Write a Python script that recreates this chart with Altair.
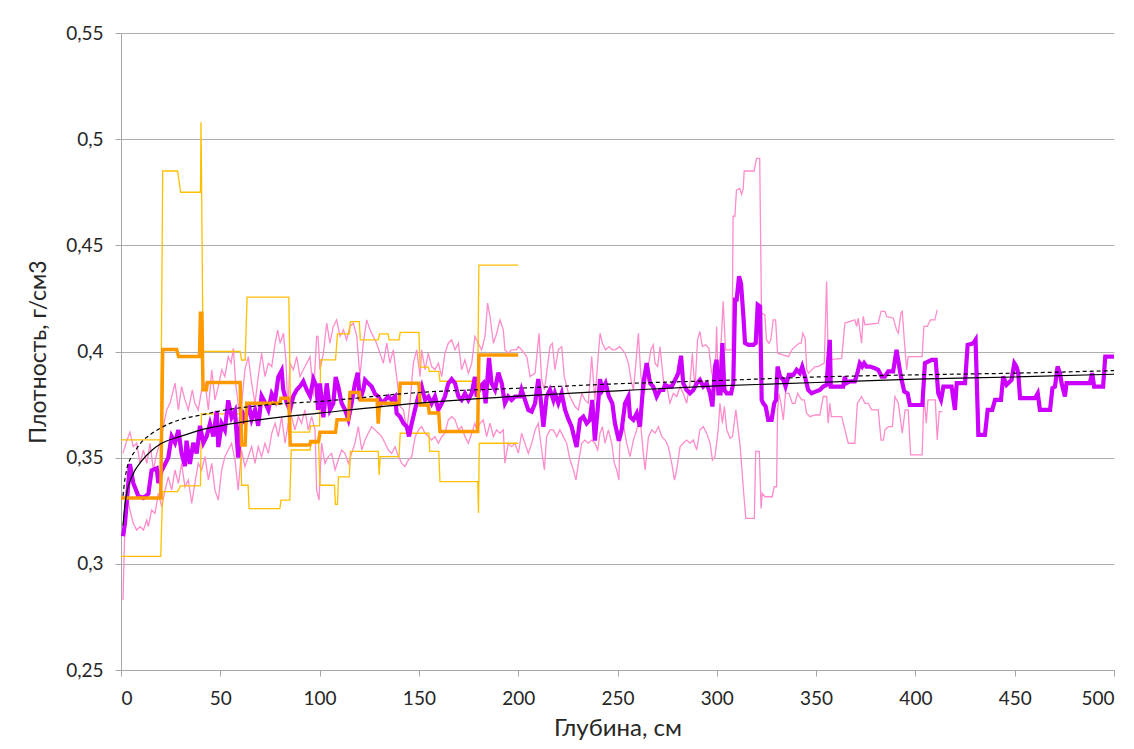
import altair as alt
import pandas as pd

# ---------------- data (depth cm, density g/cm3) ----------------
purple_mean = [
    (1, 0.313), (2, 0.319), (4.5, 0.347), (6.2, 0.338), (8.7, 0.332), (11.3, 0.331), (13.8, 0.333),
    (15.4, 0.344), (18, 0.345), (18.8, 0.338), (20.5, 0.344), (22.2, 0.347), (23.8, 0.350),
    (25.5, 0.360), (27.2, 0.357), (28.9, 0.363), (30.5, 0.352), (32.2, 0.346), (33, 0.358),
    (34.7, 0.347), (36.4, 0.357), (38.1, 0.352), (39.8, 0.365), (41.5, 0.357), (43.1, 0.360),
    (44.8, 0.366), (46.5, 0.360), (48.2, 0.372), (49, 0.355), (50.7, 0.366), (52.3, 0.363),
    (54, 0.377), (55.7, 0.369), (57.4, 0.372), (59, 0.350), (60.7, 0.3725), (62.4, 0.366),
    (64.1, 0.376), (65.8, 0.368), (67.5, 0.3725), (69.1, 0.365), (70.8, 0.379), (72.5, 0.376),
    (74.2, 0.3725), (75.9, 0.380), (77.6, 0.377), (79.2, 0.388), (80.9, 0.391), (81.7, 0.382),
    (83.4, 0.376), (85.1, 0.3725), (86.8, 0.379), (88.5, 0.382), (90.1, 0.3835), (91.8, 0.386),
    (93.5, 0.382), (95.2, 0.379), (96.9, 0.387), (98.5, 0.3835), (99.2, 0.3725), (100.2, 0.385),
    (101.9, 0.369), (103.6, 0.385), (105.2, 0.3725), (106.9, 0.3756), (108.1, 0.388),
    (109.4, 0.3835), (111.1, 0.3756), (112.8, 0.3725), (114.5, 0.368), (116.1, 0.3756),
    (117.8, 0.385), (119.2, 0.390), (120.3, 0.377), (122, 0.382), (122.9, 0.3866), (124.5, 0.385),
    (126.2, 0.3835), (127.9, 0.380), (129.6, 0.3788), (131.3, 0.3756), (133, 0.3772),
    (134.6, 0.3788), (136.3, 0.3772), (138, 0.3788), (138.8, 0.3709), (140.5, 0.3693),
    (142.2, 0.3662), (143.9, 0.3646), (145, 0.360), (146.4, 0.3662), (148, 0.3725),
    (149.7, 0.3788), (151.4, 0.3835), (153.1, 0.3772), (154.8, 0.3788), (156.4, 0.3756),
    (158.1, 0.3788), (159.8, 0.3725), (161.5, 0.3756), (163.1, 0.3788), (164.8, 0.385),
    (166.5, 0.387), (168.2, 0.385), (169.9, 0.3788), (171.5, 0.3772), (173.2, 0.3803),
    (174.9, 0.3772), (176.6, 0.3803), (178.2, 0.388), (179.1, 0.3788), (180.8, 0.3835),
    (182.4, 0.385), (183.6, 0.3756), (185.3, 0.397), (186.6, 0.385), (188.3, 0.382), (190, 0.390),
    (191.7, 0.385), (193.3, 0.3756), (195, 0.3788), (196.7, 0.3772), (198.4, 0.3788),
    (200.9, 0.3788), (201.7, 0.382), (203.4, 0.3772), (205.1, 0.3725), (206.8, 0.3717),
    (208.5, 0.3756), (210.1, 0.387), (211, 0.3803), (212.7, 0.3646), (214.3, 0.3788), (216, 0.382),
    (217.7, 0.3772), (218.5, 0.3803), (220.2, 0.3756), (221.9, 0.3803), (223.6, 0.3725),
    (225.3, 0.368), (226.9, 0.3646), (228.6, 0.358), (229.4, 0.355), (231.1, 0.3678),
    (232.8, 0.3693), (234.5, 0.3662), (236.1, 0.3678), (237.3, 0.3772), (238.6, 0.358),
    (240, 0.3725), (241.2, 0.387), (242.4, 0.382), (244, 0.385), (245.7, 0.3788), (247.4, 0.3756),
    (248.7, 0.3662), (250.7, 0.358), (252.1, 0.3631), (253.8, 0.3756), (255.5, 0.3788),
    (256.3, 0.3693), (258, 0.3678), (259.7, 0.3709), (261.3, 0.3646), (263, 0.385),
    (264.7, 0.3945), (266.4, 0.385), (268, 0.3835), (269.7, 0.3788), (271.4, 0.3819),
    (273.1, 0.3819), (273.9, 0.3843), (275.6, 0.3835), (277.3, 0.3835), (279, 0.3866),
    (280.6, 0.3898), (282, 0.398), (283.1, 0.385), (284.8, 0.3819), (286.5, 0.3803),
    (288.2, 0.3819), (289.9, 0.385), (291.5, 0.3866), (293.2, 0.3835), (294.9, 0.385),
    (296.6, 0.3803), (297.8, 0.3741), (299.1, 0.3929), (299.9, 0.3961), (300.8, 0.3803),
    (301.9, 0.3803), (302.8, 0.404), (303.8, 0.3819), (305, 0.3803), (307.2, 0.3803),
    (308.3, 0.385), (309.2, 0.4244), (310, 0.4244), (311.2, 0.4354), (312.2, 0.432),
    (313.4, 0.4165), (314.2, 0.404), (315.9, 0.4031), (318.4, 0.4031), (319.6, 0.404),
    (320.6, 0.422), (321.8, 0.4212), (322.6, 0.3772), (323.4, 0.3756), (324.6, 0.3741),
    (325.9, 0.3678), (327.6, 0.3678), (328.9, 0.3756), (329.8, 0.3772), (330.6, 0.3929),
    (331.8, 0.3882), (333.5, 0.3866), (334.6, 0.3835), (336.3, 0.389), (338.5, 0.389),
    (340.2, 0.3914), (341.8, 0.3898), (343, 0.3929), (344.4, 0.3882), (346, 0.3819),
    (347.7, 0.3803), (349.4, 0.381), (351.9, 0.3819), (353.6, 0.3835), (355.3, 0.3843),
    (356.1, 0.3961), (356.9, 0.4055), (357.4, 0.3835), (361.2, 0.3835), (363.6, 0.3835),
    (364.5, 0.3882), (365.3, 0.3851), (367, 0.3859), (369.5, 0.3859), (370.8, 0.3898),
    (372, 0.3945), (373.2, 0.3929), (374.2, 0.3945), (375.4, 0.3929), (377.1, 0.3929),
    (379.6, 0.3921), (381.3, 0.3914), (383, 0.3882), (384.6, 0.3882), (386.3, 0.3906),
    (388.8, 0.3906), (390.5, 0.4008), (391.3, 0.3961), (392.7, 0.3882), (394.4, 0.3811),
    (396.1, 0.3803), (397.2, 0.3748), (399.8, 0.3748), (403.5, 0.3748), (404.8, 0.3945),
    (408.2, 0.3961), (410.2, 0.3961), (411.5, 0.3803), (412.9, 0.3772), (414.1, 0.3835),
    (418.2, 0.3835), (419.9, 0.3725), (420.8, 0.3851), (425, 0.3851), (426.3, 0.4031),
    (429.2, 0.4039), (430.3, 0.4055), (431.7, 0.3607), (435, 0.3607), (436.4, 0.3725),
    (438.7, 0.3725), (440.1, 0.3772), (443.1, 0.3772), (444.2, 0.3882), (445.9, 0.3843),
    (448.4, 0.3866), (449.8, 0.3945), (450.9, 0.3929), (451.8, 0.3898), (452.7, 0.378),
    (460.2, 0.378), (461.6, 0.3803), (462.7, 0.3725), (467.8, 0.3725), (469, 0.3827),
    (470.3, 0.3835), (471.6, 0.3929), (472.8, 0.3898), (473.6, 0.3851), (475.3, 0.3788),
    (476.1, 0.3851), (480.3, 0.3851), (487.8, 0.3851), (489, 0.3898), (490, 0.3835),
    (494.5, 0.3835), (495.6, 0.3976), (500, 0.3976),
]

pink_upper = [
    (1, 0.352), (2.9, 0.358), (4.5, 0.362), (6.2, 0.3552), (7.9, 0.3568), (9.6, 0.3473),
    (11.3, 0.3536), (13, 0.3473), (14.6, 0.3568), (16.3, 0.3442), (18, 0.352), (19.6, 0.3568),
    (21.3, 0.3646), (23, 0.3725), (24.7, 0.3756), (27.2, 0.3851), (28.9, 0.3725), (30.5, 0.3835),
    (32.2, 0.3772), (33.9, 0.3725), (35.9, 0.3819), (37.2, 0.3756), (38.9, 0.3725), (40.6, 0.3819),
    (42.3, 0.3851), (44, 0.3725), (45.7, 0.3914), (47.3, 0.3772), (49, 0.3835), (50.7, 0.3914),
    (52.3, 0.3882), (54, 0.3976), (55.4, 0.3945), (56.6, 0.4015), (57.7, 0.3851), (59.4, 0.3725),
    (60.8, 0.3756), (62.4, 0.3914), (64.1, 0.3976), (65.8, 0.3851), (67.5, 0.3756), (69.1, 0.3882),
    (70.8, 0.3992), (72.5, 0.3882), (74.2, 0.3945), (75.9, 0.3929), (77.6, 0.4039), (78.9, 0.4102),
    (80.1, 0.4039), (81.8, 0.4086), (83, 0.3961), (84, 0.3725), (85.1, 0.3945), (86.8, 0.3914),
    (88.5, 0.3976), (90.1, 0.3882), (91.8, 0.3914), (93.5, 0.3945), (95.2, 0.3976), (96.9, 0.3788),
    (98.5, 0.4071), (99.2, 0.4071), (100.2, 0.3914), (101.9, 0.3992), (103.6, 0.4134),
    (105.2, 0.4039), (106.9, 0.4118), (108.6, 0.4149), (110.3, 0.4071), (112, 0.4102),
    (113.6, 0.4055), (115.3, 0.4118), (117, 0.4134), (118.7, 0.4071), (120.3, 0.3882),
    (122, 0.4039), (123.7, 0.4149), (125.4, 0.4102), (127, 0.4071), (128.7, 0.4039),
    (130.4, 0.3992), (132.1, 0.3945), (133.8, 0.4039), (135.4, 0.3945), (137.1, 0.4008),
    (138.8, 0.3882), (140.5, 0.3741), (142.2, 0.3725), (143.9, 0.3631), (145.5, 0.3756),
    (147.2, 0.3945), (148.9, 0.4008), (150.6, 0.3882), (151.4, 0.4008), (153.1, 0.3914),
    (154.7, 0.3992), (156.4, 0.3929), (158.1, 0.3914), (159.8, 0.3945), (161.5, 0.3882),
    (163.1, 0.3992), (164.8, 0.4039), (166.5, 0.4055), (168.2, 0.4008), (169.9, 0.4039),
    (171.5, 0.3914), (173.2, 0.3961), (174.9, 0.3898), (176.6, 0.3945), (178.2, 0.4071),
    (179.9, 0.4039), (181.6, 0.4008), (183.3, 0.4071), (184.6, 0.4228), (185.8, 0.4165),
    (187.5, 0.4039), (189.2, 0.4086), (190.8, 0.4149), (192.5, 0.4102), (193.3, 0.4008),
    (195, 0.3992), (196.7, 0.4008), (199.2, 0.4008), (200.1, 0.4023), (201.7, 0.4008),
    (204.3, 0.3976), (206, 0.3882), (208.5, 0.3898), (210.5, 0.4086), (211.8, 0.3866),
    (213.2, 0.3819), (214.3, 0.3898), (216, 0.4023), (217.2, 0.4039), (218.5, 0.3914),
    (220.2, 0.4008), (221.9, 0.4023), (223.2, 0.3882), (225.3, 0.3803), (226.9, 0.3772),
    (228.6, 0.3741), (230.3, 0.3725), (232, 0.3803), (233.6, 0.3772), (235.3, 0.3756),
    (237, 0.3976), (238.6, 0.3772), (240, 0.3945), (241.2, 0.4086), (242.4, 0.4039),
    (244, 0.4008), (245.7, 0.4023), (247.4, 0.4008), (248.7, 0.4008), (251.2, 0.4023),
    (253.8, 0.3992), (255.5, 0.3945), (256.8, 0.3866), (258, 0.3819), (259.1, 0.3929),
    (260.5, 0.4086), (261.8, 0.3882), (263.5, 0.3803), (265.2, 0.3914), (266.8, 0.4008),
    (268, 0.4031), (268.9, 0.3945), (270.2, 0.3929), (271.4, 0.4023), (273.1, 0.3866),
    (274.8, 0.3835), (276.4, 0.3756), (278.1, 0.3803), (279.8, 0.3788), (281.5, 0.3835),
    (283.1, 0.3803), (284.8, 0.3756), (286.5, 0.3851), (287.7, 0.3992), (289, 0.3819),
    (290.3, 0.4055), (291.5, 0.4094), (292.7, 0.4023), (294.4, 0.4031), (296, 0.4015),
    (297.4, 0.3898), (299.1, 0.3851), (299.9, 0.4118), (300.7, 0.3851), (302, 0.4008),
    (303.2, 0.4236), (304.4, 0.4008), (307.7, 0.4008), (308.2, 0.4637), (309.1, 0.4637),
    (309.9, 0.476), (311.6, 0.4768), (312.5, 0.474), (313.3, 0.4768), (313.8, 0.485),
    (318.8, 0.485), (320, 0.491), (321.6, 0.491), (322.5, 0.418), (324.2, 0.4173),
    (325, 0.4055), (326.2, 0.4039), (327.2, 0.4055), (328.4, 0.4149), (329.6, 0.4149),
    (330.6, 0.3992), (336.1, 0.3976), (337.8, 0.4008), (339.4, 0.4023), (341.5, 0.4039),
    (342.5, 0.4039), (343.3, 0.4086), (344.5, 0.4063), (345.3, 0.3914), (346.2, 0.3898),
    (349.5, 0.3929), (351.1, 0.3929), (354.1, 0.3945), (355.3, 0.433), (356.1, 0.3961),
    (362.9, 0.3968), (364.5, 0.4134), (369.5, 0.4149), (370.4, 0.4118), (371.2, 0.4157),
    (372.9, 0.4039), (373.7, 0.4165), (374.6, 0.4126), (381.3, 0.4134), (382.7, 0.4189),
    (384.7, 0.4189), (385.5, 0.4165), (388.9, 0.4157), (390.5, 0.4102), (391.4, 0.4086),
    (392.7, 0.4181), (393.4, 0.4189), (394.4, 0.4055), (395.6, 0.3914), (396.4, 0.3976),
    (403.4, 0.3976), (404.3, 0.4118), (406, 0.4118), (407.6, 0.4149), (409.8, 0.4149),
    (411, 0.4197),
]

pink_lower = [
    (1, 0.2829), (1.7, 0.3096), (2.9, 0.3332), (4.5, 0.3253), (6.2, 0.319), (7.9, 0.3159),
    (9.6, 0.3175), (11.3, 0.3159), (13, 0.3206), (13.8, 0.3175), (15.4, 0.3253), (17.1, 0.3237),
    (18.8, 0.3332), (20.5, 0.3269), (22.2, 0.3347), (23.8, 0.341), (25.5, 0.3347), (27.2, 0.3442),
    (28.9, 0.3379), (30.5, 0.3473), (32.2, 0.3363), (33.9, 0.3395), (35.6, 0.3285), (37.2, 0.3379),
    (38.9, 0.3473), (40.6, 0.3442), (42.3, 0.3505), (44, 0.3395), (45.7, 0.3473), (47.3, 0.3347),
    (49, 0.33), (50.7, 0.3442), (52.3, 0.3505), (54, 0.3536), (55.7, 0.3568), (57.4, 0.3489),
    (59, 0.3347), (60.7, 0.3536), (62.4, 0.3458), (64.1, 0.3505), (65.8, 0.3552), (67.5, 0.3473),
    (69.1, 0.3552), (70.8, 0.3505), (72.5, 0.3568), (74.2, 0.352), (75.9, 0.3615), (77.6, 0.3662),
    (79.2, 0.3599), (80.9, 0.3693), (82.6, 0.3568), (84.2, 0.3662), (85.9, 0.3693), (87.6, 0.3631),
    (89.3, 0.3693), (90.9, 0.3662), (92.6, 0.3725), (94.3, 0.3631), (96, 0.3693), (97.7, 0.3631),
    (98.5, 0.3347), (99.7, 0.33), (101, 0.3568), (102.7, 0.3473), (104.4, 0.3505), (106.1, 0.352),
    (107.8, 0.3442), (109.4, 0.3489), (111.1, 0.3536), (112.8, 0.352), (114.5, 0.3473),
    (116.1, 0.352), (117.8, 0.3568), (119.5, 0.3646), (121.2, 0.3536), (122.9, 0.3583),
    (124.5, 0.3615), (126.2, 0.3646), (127.9, 0.3631), (129.6, 0.3615), (131.3, 0.3599),
    (133, 0.3568), (134.6, 0.3536), (136.3, 0.352), (138, 0.3552), (139.7, 0.3505),
    (141.4, 0.3473), (143, 0.3458), (144.7, 0.3489), (146.4, 0.3505), (148.1, 0.3599),
    (149.8, 0.3631), (151.4, 0.3646), (153.1, 0.3615), (154.7, 0.3599), (156.4, 0.3583),
    (158.1, 0.3599), (159.8, 0.3568), (161.5, 0.3599), (163.1, 0.3615), (164.8, 0.3678),
    (166.5, 0.3693), (168.2, 0.3678), (169.9, 0.3631), (171.5, 0.3646), (173.2, 0.3599),
    (174.9, 0.3568), (176.6, 0.3615), (178.2, 0.3662), (179.1, 0.3631), (180.8, 0.3662),
    (182.4, 0.3678), (184.1, 0.3599), (185.8, 0.3662), (187.5, 0.3599), (189.2, 0.3631),
    (190.8, 0.3615), (192.5, 0.3631), (193.3, 0.3474), (195, 0.3568), (196.7, 0.3552),
    (198.4, 0.3568), (200.1, 0.352), (201.7, 0.3615), (203.4, 0.3568), (205.1, 0.352),
    (206.8, 0.3568), (208.5, 0.3631), (210.1, 0.3662), (211.8, 0.3536), (213.2, 0.3442),
    (214.3, 0.3599), (216, 0.3631), (217.7, 0.3631), (219.4, 0.3599), (221, 0.3631),
    (222.7, 0.3599), (224.4, 0.3568), (226.1, 0.3489), (227.8, 0.3442), (229.1, 0.3394),
    (230.3, 0.3473), (232, 0.3568), (233.6, 0.3583), (235.3, 0.3568), (237, 0.3583),
    (238.6, 0.3568), (240, 0.3536), (241.2, 0.3615), (242.4, 0.3646), (243.7, 0.3568),
    (245.4, 0.3631), (247.1, 0.3568), (248.4, 0.3473), (249.6, 0.3442), (250.7, 0.3394),
    (251.2, 0.3583), (252.9, 0.3662), (254.6, 0.3568), (256.3, 0.3505), (258, 0.3583),
    (259.7, 0.3631), (261.3, 0.3693), (263, 0.352), (263.9, 0.3442), (265.6, 0.3599),
    (267.3, 0.3631), (268.9, 0.3615), (270.6, 0.3646), (272.3, 0.3599), (274, 0.3583),
    (275.6, 0.3552), (277.3, 0.3473), (278.7, 0.3394), (279.8, 0.3442), (281.5, 0.3552),
    (283.1, 0.3568), (284.8, 0.3583), (286.5, 0.3568), (288.2, 0.3583), (289.9, 0.3536),
    (291.5, 0.3631), (293.2, 0.3646), (294.9, 0.3615), (296.6, 0.3568), (297.8, 0.3489),
    (299.1, 0.3505), (300.7, 0.3631), (301.6, 0.3756), (302.8, 0.3662), (303.8, 0.3741),
    (305, 0.3631), (306.7, 0.3591), (307.9, 0.3599), (309.6, 0.3725), (311.8, 0.355),
    (313.4, 0.335), (314.6, 0.3214), (318.9, 0.3214), (319.6, 0.3529), (321.4, 0.3529),
    (322.3, 0.3261), (322.9, 0.3332), (324.2, 0.3316), (327.9, 0.3316), (328.9, 0.3363),
    (330.1, 0.3363), (330.6, 0.3725), (331.3, 0.3803), (332.3, 0.3756), (333.5, 0.3678),
    (334.6, 0.3803), (336.3, 0.3803), (338, 0.3756), (339.4, 0.3756), (340.7, 0.3803),
    (342.7, 0.3772), (344.1, 0.3772), (345.2, 0.3709), (346.9, 0.3693), (349.4, 0.3701),
    (351.9, 0.3701), (353.6, 0.3788), (355.3, 0.3788), (356.1, 0.3662), (356.9, 0.3756),
    (357.7, 0.3693), (362.9, 0.3693), (364.5, 0.3631), (366.2, 0.3568), (369.5, 0.3568),
    (370.8, 0.3756), (372.9, 0.3788), (373.7, 0.3772), (374.6, 0.3756), (376.3, 0.3756),
    (377.9, 0.3725), (381.3, 0.3725), (382.7, 0.3583), (383.9, 0.3583), (384.7, 0.3631),
    (386.4, 0.3646), (388.4, 0.3646), (389.7, 0.3788), (391.4, 0.3756), (393.4, 0.3615),
    (394.8, 0.3725), (396.4, 0.3725), (397.6, 0.3513), (403.4, 0.3513), (404.3, 0.3788),
    (405.5, 0.3662), (406.3, 0.3772), (410, 0.3772), (411, 0.3583), (412, 0.3717),
    (413.5, 0.3717),
]

orange_mean = [
    (0, 0.331), (20, 0.331), (21, 0.401), (28, 0.401), (29, 0.3976), (39.5, 0.3976), (40, 0.418),
    (40.7, 0.418), (41.3, 0.382), (43, 0.382), (43.5, 0.3854), (60, 0.3854), (60.7, 0.356),
    (62.5, 0.356), (63.3, 0.3756), (80, 0.3756), (80.5, 0.378), (84.5, 0.378), (85.2, 0.356),
    (95, 0.356), (95.5, 0.3576), (99.5, 0.3576), (100.2, 0.362), (108, 0.362), (108.8, 0.3678),
    (114.5, 0.3678), (115.3, 0.3807), (120, 0.3807), (120.5, 0.3772), (129, 0.3772),
    (129.5, 0.366), (130.2, 0.3756), (140, 0.3756), (140.6, 0.3851), (150, 0.3851),
    (150.6, 0.3748), (154.7, 0.3748), (155.2, 0.371), (160, 0.371), (160.6, 0.3623),
    (179.6, 0.3623), (180.2, 0.3984), (200, 0.3984),
]

yellow_upper = [
    (0, 0.3584), (20, 0.3584), (21, 0.485), (28.5, 0.485), (30, 0.475), (40, 0.475),
    (40.3, 0.508), (41.3, 0.4), (60, 0.4), (60.7, 0.396), (62.5, 0.396), (63.5, 0.4256),
    (84.5, 0.4256), (85.5, 0.362), (95, 0.362), (95.5, 0.365), (100, 0.365), (100.5, 0.3961),
    (108, 0.3961), (109, 0.4083), (115, 0.4083), (115.5, 0.4141), (120, 0.4141), (120.5, 0.4055),
    (129.5, 0.4055), (130.2, 0.4083), (134.5, 0.4083), (135, 0.4055), (140, 0.4055),
    (140.6, 0.409), (150, 0.409), (150.6, 0.3926), (154.7, 0.3926), (155.2, 0.3906),
    (160, 0.3906), (160.6, 0.386), (179.6, 0.386), (180.2, 0.4407), (200, 0.4407),
]

yellow_lower = [
    (0, 0.3035), (20, 0.3035), (21, 0.334), (28.5, 0.334), (30, 0.3367), (40, 0.3367),
    (40.5, 0.3706), (60, 0.3706), (60.7, 0.337), (64, 0.337), (64.5, 0.326), (80, 0.326),
    (80.5, 0.33), (85, 0.33), (85.7, 0.3536), (95.2, 0.3536), (95.7, 0.3568), (99.5, 0.3568),
    (100.2, 0.337), (107.5, 0.337), (108, 0.328), (109, 0.328), (109.5, 0.341), (115, 0.341),
    (115.5, 0.353), (129.5, 0.353), (130, 0.3418), (130.5, 0.3505), (140, 0.3505),
    (140.6, 0.3615), (155, 0.3615), (155.5, 0.353), (160, 0.353), (160.6, 0.3387),
    (179.6, 0.3387), (180, 0.324), (180.4, 0.3568), (200, 0.3568),
]

trend_solid = [
    (1, 0.318), (2, 0.328), (3, 0.334), (5, 0.340), (7, 0.344), (10, 0.348), (15, 0.353),
    (20, 0.3565), (30, 0.360), (40, 0.363), (50, 0.365), (75, 0.3685), (100, 0.371),
    (150, 0.3757), (200, 0.379), (250, 0.3815), (300, 0.3838), (350, 0.3854), (400, 0.387),
    (450, 0.388), (500, 0.3893),
]

trend_dashed = [
    (1, 0.332), (2, 0.340), (3, 0.345), (5, 0.350), (7, 0.353), (10, 0.357), (15, 0.361),
    (20, 0.364), (30, 0.368), (40, 0.370), (50, 0.372), (75, 0.375), (100, 0.3765),
    (150, 0.3807), (200, 0.3827), (250, 0.3848), (300, 0.3863), (350, 0.388), (400, 0.389),
    (450, 0.3898), (500, 0.391),
]

x_ticks = list(range(0, 501, 50))
y_ticks = [0.25, 0.3, 0.35, 0.4, 0.45, 0.5, 0.55]

X_TITLE = "Глубина, см"
Y_TITLE = "Плотность, г/см3"

FONT = "Lato"

# ---------------- build ----------------
def frame(points, name):
    return pd.DataFrame({
        "x": [p[0] for p in points],
        "y": [p[1] for p in points],
        "s": name,
        "i": list(range(len(points))),
    })

x_scale = alt.Scale(domain=[0, 500], nice=False, zero=False)
y_scale = alt.Scale(domain=[0.25, 0.55], nice=False, zero=False)

x_axis = alt.Axis(
    values=x_ticks, grid=False, title=X_TITLE,
    domainColor="#A6A6A6", tickColor="#A6A6A6", tickSize=6,
    labelFont=FONT, labelFontSize=19, labelColor="#262626", labelPadding=13,
    titleFont=FONT, titleFontSize=24, titleFontWeight="normal", titleColor="#262626",
    titleBaseline="middle", titleY=58,
)
y_axis = alt.Axis(
    values=y_ticks, grid=True, gridColor="#ADADAD", title=Y_TITLE,
    domainColor="#A6A6A6", tickColor="#A6A6A6", tickSize=6,
    labelFont=FONT, labelFontSize=19, labelColor="#262626", labelPadding=12,
    labelExpr="replace(format(datum.value, '.2~f'), '.', ',')",
    titleFont=FONT, titleFontSize=23, titleFontWeight="normal", titleColor="#262626",
    titleBaseline="middle", titleX=-83,
)


def line_layer(df, color, width, dash=None, detail=False, interp="linear"):
    kw = dict(color=color, strokeWidth=width, interpolate=interp, clip=True)
    if dash:
        kw["strokeDash"] = dash
    enc = dict(
        x=alt.X("x:Q", scale=x_scale, axis=x_axis),
        y=alt.Y("y:Q", scale=y_scale, axis=y_axis),
        order=alt.Order("i:Q"),
    )
    if detail:
        enc["detail"] = alt.Detail("s:N")
    return alt.Chart(df).mark_line(**kw).encode(**enc)


pink_df = pd.concat([frame(pink_upper, "up"), frame(pink_lower, "low")])
yellow_df = pd.concat([frame(yellow_upper, "up"), frame(yellow_lower, "low")])

layers = [
    line_layer(pink_df, "#FF8CCB", 1.3, detail=True),
    line_layer(yellow_df, "#FFC000", 1.3, detail=True),
    line_layer(frame(purple_mean, "p"), "#CC00FF", 4.2),
    line_layer(frame(orange_mean, "o"), "#FF9900", 3.5),
    line_layer(frame(trend_dashed, "d"), "#000000", 1.2, dash=[4, 3], interp="monotone"),
    line_layer(frame(trend_solid, "t"), "#000000", 1.2, interp="monotone"),
]

chart = alt.layer(*layers).properties(
    width=993, height=637,
    background="white",
    autosize=alt.AutoSizeParams(type="none"),
    padding={"left": 121, "top": 33, "right": 20, "bottom": 79},
).configure_view(stroke=None)

chart.save("out.html", embed_options={"renderer": "svg", "actions": False})
